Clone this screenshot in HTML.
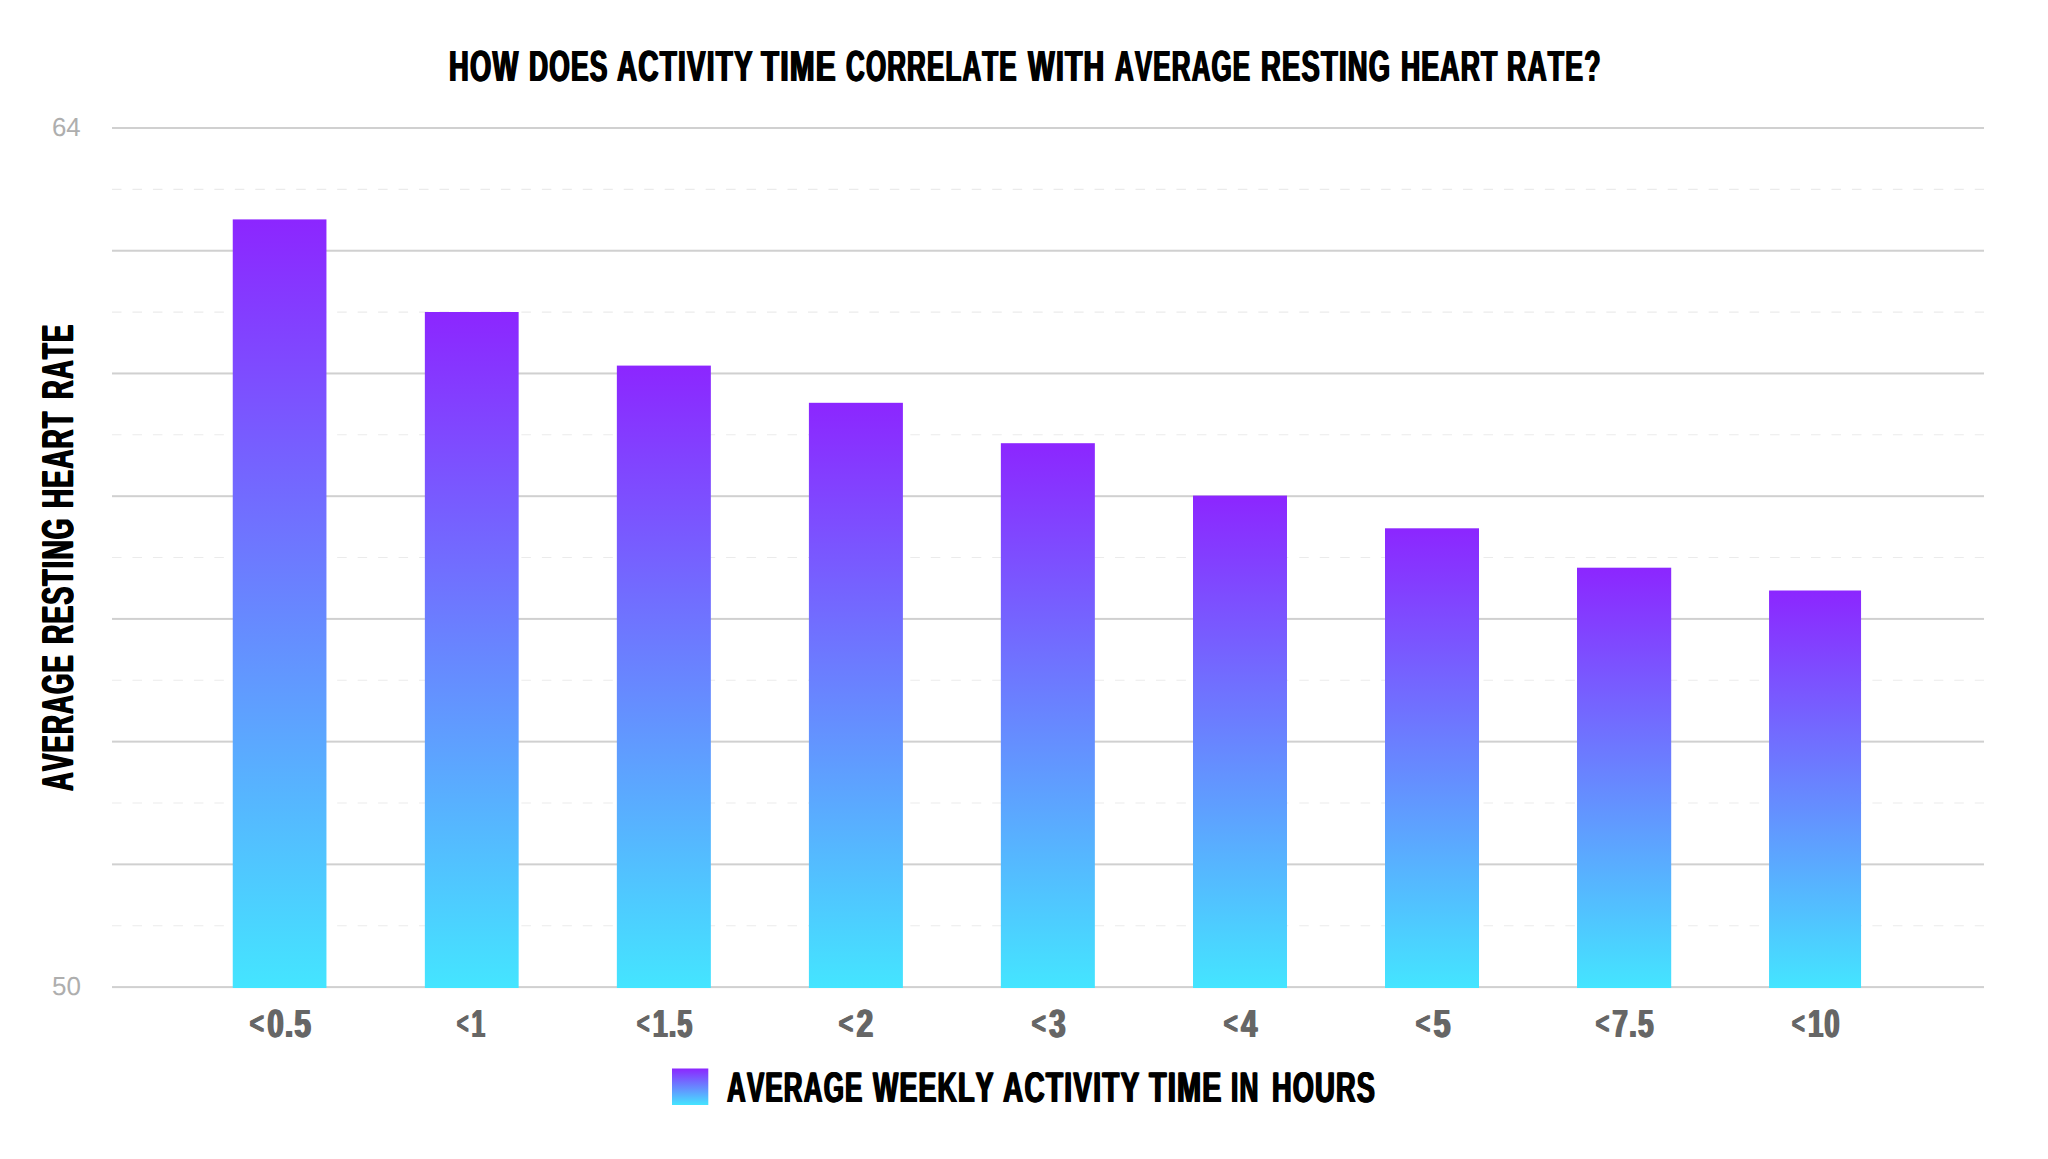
<!DOCTYPE html>
<html lang="en"><head><meta charset="utf-8"><title>How does activity time correlate with average resting heart rate?</title>
<style>
html,body{margin:0;padding:0;background:#fff;}
body{text-rendering:geometricPrecision;width:2048px;height:1159px;position:relative;overflow:hidden;font-family:"Liberation Sans",sans-serif;}
.g{position:absolute;left:0;top:0;margin:0;font-weight:normal;line-height:1;}
.t{position:absolute;white-space:nowrap;font-weight:bold;line-height:1;transform-origin:0 0;color:#000;}
.k{font-kerning:none;letter-spacing:0.045em;text-shadow:1.25px 0 0 currentColor,-1.25px 0 0 currentColor;}
.ax{position:absolute;transform-origin:0 0;line-height:1;color:#aeaeae;white-space:nowrap;}
.xl{color:#666;}
.lt{font-size:0.8em;position:relative;top:-0.083em;margin-right:0.1em;}
</style></head><body>
<svg width="2048" height="1159" viewBox="0 0 2048 1159" style="position:absolute;left:0;top:0">
<defs><linearGradient id="g" x1="0" y1="0" x2="0" y2="1"><stop offset="0" stop-color="#8c26ff"/><stop offset="1" stop-color="#44e5ff"/></linearGradient></defs>
<line x1="112" x2="1984" y1="189.36" y2="189.36" stroke="#ebebeb" stroke-width="1.1" stroke-dasharray="9.5 10.97"/>
<line x1="112" x2="1984" y1="312.09" y2="312.09" stroke="#ebebeb" stroke-width="1.1" stroke-dasharray="9.5 10.97"/>
<line x1="112" x2="1984" y1="434.82" y2="434.82" stroke="#ebebeb" stroke-width="1.1" stroke-dasharray="9.5 10.97"/>
<line x1="112" x2="1984" y1="557.55" y2="557.55" stroke="#ebebeb" stroke-width="1.1" stroke-dasharray="9.5 10.97"/>
<line x1="112" x2="1984" y1="680.28" y2="680.28" stroke="#ebebeb" stroke-width="1.1" stroke-dasharray="9.5 10.97"/>
<line x1="112" x2="1984" y1="803.01" y2="803.01" stroke="#ebebeb" stroke-width="1.1" stroke-dasharray="9.5 10.97"/>
<line x1="112" x2="1984" y1="925.74" y2="925.74" stroke="#ebebeb" stroke-width="1.1" stroke-dasharray="9.5 10.97"/>
<rect x="112" y="127.00" width="1872" height="2" fill="#d0d0d0"/>
<rect x="112" y="249.73" width="1872" height="2" fill="#d0d0d0"/>
<rect x="112" y="372.46" width="1872" height="2" fill="#d0d0d0"/>
<rect x="112" y="495.19" width="1872" height="2" fill="#d0d0d0"/>
<rect x="112" y="617.91" width="1872" height="2" fill="#d0d0d0"/>
<rect x="112" y="740.64" width="1872" height="2" fill="#d0d0d0"/>
<rect x="112" y="863.37" width="1872" height="2" fill="#d0d0d0"/>
<rect x="112" y="986.10" width="1872" height="2" fill="#d0d0d0"/>
<rect x="232.75" y="219.4" width="93.7" height="768.6" fill="url(#g)"/>
<rect x="424.85" y="312.0" width="93.8" height="676.0" fill="url(#g)"/>
<rect x="616.85" y="365.6" width="94.0" height="622.4" fill="url(#g)"/>
<rect x="808.90" y="402.8" width="94.0" height="585.2" fill="url(#g)"/>
<rect x="1000.85" y="443.2" width="94.0" height="544.8" fill="url(#g)"/>
<rect x="1193.00" y="495.6" width="94.0" height="492.4" fill="url(#g)"/>
<rect x="1385.00" y="528.3" width="94.0" height="459.7" fill="url(#g)"/>
<rect x="1577.00" y="567.7" width="94.2" height="420.3" fill="url(#g)"/>
<rect x="1769.05" y="590.5" width="92.0" height="397.5" fill="url(#g)"/>
<rect x="672" y="1068.5" width="36.3" height="36.5" fill="url(#g)"/>
</svg>
<h1 class="g" style="font-size:43.6px"><span class="t k" style="left:449.20px;top:46.09px;transform:scale(0.6266,1);">HOW</span> <span class="t k" style="left:529.20px;top:46.09px;transform:scale(0.6065,1);">DOES</span> <span class="t k" style="left:616.60px;top:46.09px;transform:scale(0.6383,1);">ACTIVITY</span> <span class="t k" style="left:761.20px;top:46.09px;transform:scale(0.6774,1);">TIME</span> <span class="t k" style="left:846.40px;top:46.09px;transform:scale(0.5946,1);">CORRELATE</span> <span class="t k" style="left:1028.20px;top:46.09px;transform:scale(0.6486,1);">WITH</span> <span class="t k" style="left:1115.20px;top:46.09px;transform:scale(0.5944,1);">AVERAGE</span> <span class="t k" style="left:1261.20px;top:46.09px;transform:scale(0.6283,1);">RESTING</span> <span class="t k" style="left:1400.60px;top:46.09px;transform:scale(0.6095,1);">HEART</span> <span class="t k" style="left:1506.60px;top:46.09px;transform:scale(0.6100,1);">RATE?</span></h1>
<div class="g" style="font-size:42.9px"><span class="t k" style="left:727.00px;top:1066.69px;transform:scale(0.6049,1);">AVERAGE</span> <span class="t k" style="left:872.60px;top:1066.69px;transform:scale(0.6239,1);">WEEKLY</span> <span class="t k" style="left:1002.80px;top:1066.69px;transform:scale(0.6522,1);">ACTIVITY</span> <span class="t k" style="left:1148.80px;top:1066.69px;transform:scale(0.6689,1);">TIME</span> <span class="t k" style="left:1231.40px;top:1066.69px;transform:scale(0.6098,1);">IN</span> <span class="t k" style="left:1271.60px;top:1066.69px;transform:scale(0.6326,1);">HOURS</span></div>
<div class="g" style="font-size:44.6px"><span class="t k" style="left:37.25px;top:790.80px;transform:rotate(-90deg) scale(0.5841,1);">AVERAGE</span> <span class="t k" style="left:37.25px;top:643.80px;transform:rotate(-90deg) scale(0.5971,1);">RESTING</span> <span class="t k" style="left:37.25px;top:507.80px;transform:rotate(-90deg) scale(0.5949,1);">HEART</span> <span class="t k" style="left:37.25px;top:399.00px;transform:rotate(-90deg) scale(0.5834,1);">RATE</span></div>
<div class="g" style="font-size:26px"><span class="ax" style="left:52.40px;top:113.99px;transform:scale(0.9930,1);">64</span></div>
<div class="g" style="font-size:26px"><span class="ax" style="left:51.80px;top:972.99px;transform:scale(1.0014,1);">50</span></div>
<div class="g" style="font-size:39.4px"><span class="t k xl" style="left:249.60px;top:1004.65px;transform:scale(0.7444,1);"><span class="lt">&lt;</span>0.5</span> <span class="t k xl" style="left:457.20px;top:1004.65px;transform:scale(0.6208,1);"><span class="lt">&lt;</span>1</span> <span class="t k xl" style="left:637.00px;top:1004.65px;transform:scale(0.6765,1);"><span class="lt">&lt;</span>1.5</span> <span class="t k xl" style="left:839.40px;top:1004.65px;transform:scale(0.7549,1);"><span class="lt">&lt;</span>2</span> <span class="t k xl" style="left:1031.80px;top:1004.65px;transform:scale(0.7397,1);"><span class="lt">&lt;</span>3</span> <span class="t k xl" style="left:1223.80px;top:1004.65px;transform:scale(0.7353,1);"><span class="lt">&lt;</span>4</span> <span class="t k xl" style="left:1416.20px;top:1004.65px;transform:scale(0.7590,1);"><span class="lt">&lt;</span>5</span> <span class="t k xl" style="left:1596.00px;top:1004.65px;transform:scale(0.7043,1);"><span class="lt">&lt;</span>7.5</span> <span class="t k xl" style="left:1792.20px;top:1004.65px;transform:scale(0.6901,1);"><span class="lt">&lt;</span>10</span></div>
</body></html>
